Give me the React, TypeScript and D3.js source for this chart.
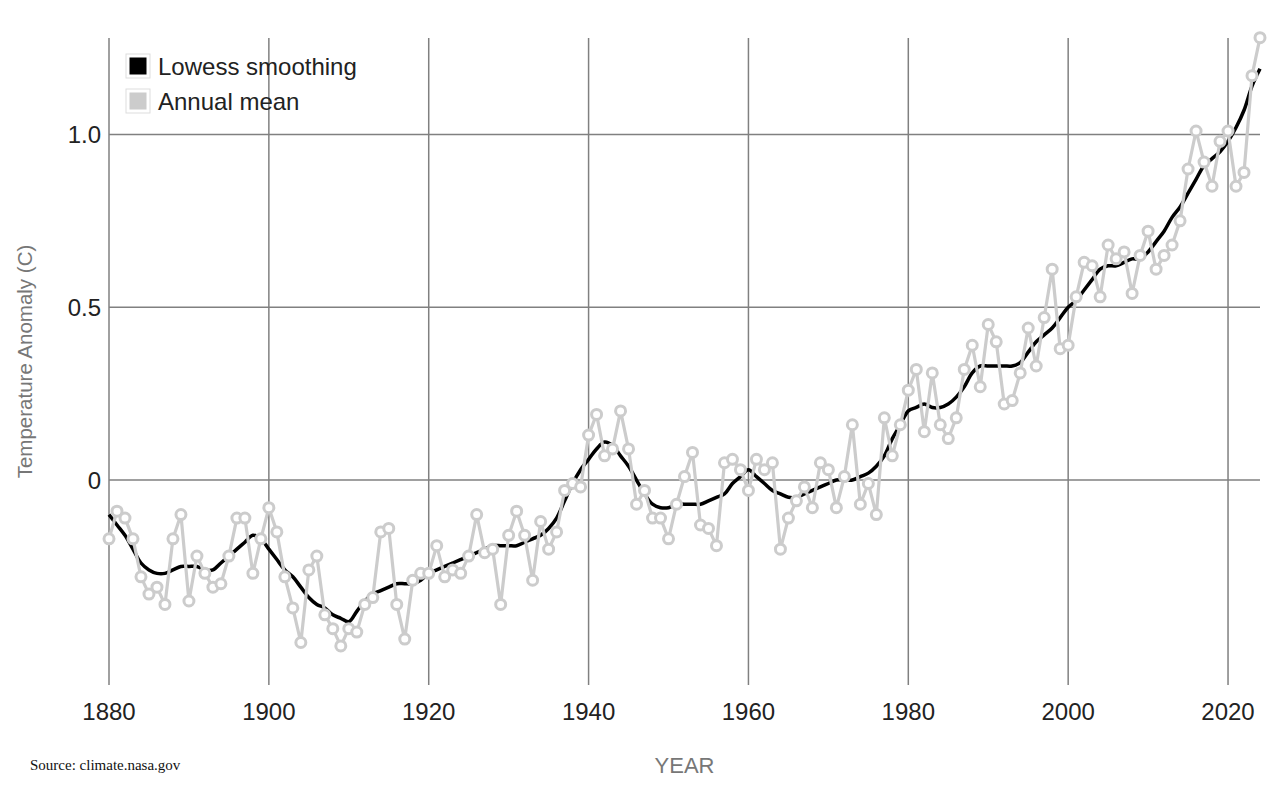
import React from 'react';
import * as d3 from 'd3';

// GISTEMP global land-ocean temperature index, 1880-2024
const years: number[] = d3.range(1880, 2025);

const annualMean: number[] = [
  -0.17, -0.09, -0.11, -0.17, -0.28, -0.33, -0.31, -0.36, -0.17, -0.10,
  -0.35, -0.22, -0.27, -0.31, -0.30, -0.22, -0.11, -0.11, -0.27, -0.17,
  -0.08, -0.15, -0.28, -0.37, -0.47, -0.26, -0.22, -0.39, -0.43, -0.48,
  -0.43, -0.44, -0.36, -0.34, -0.15, -0.14, -0.36, -0.46, -0.29, -0.27,
  -0.27, -0.19, -0.28, -0.26, -0.27, -0.22, -0.10, -0.21, -0.20, -0.36,
  -0.16, -0.09, -0.16, -0.29, -0.12, -0.20, -0.15, -0.03, -0.01, -0.02,
  0.13, 0.19, 0.07, 0.09, 0.20, 0.09, -0.07, -0.03, -0.11, -0.11,
  -0.17, -0.07, 0.01, 0.08, -0.13, -0.14, -0.19, 0.05, 0.06, 0.03,
  -0.03, 0.06, 0.03, 0.05, -0.20, -0.11, -0.06, -0.02, -0.08, 0.05,
  0.03, -0.08, 0.01, 0.16, -0.07, -0.01, -0.10, 0.18, 0.07, 0.16,
  0.26, 0.32, 0.14, 0.31, 0.16, 0.12, 0.18, 0.32, 0.39, 0.27,
  0.45, 0.40, 0.22, 0.23, 0.31, 0.44, 0.33, 0.47, 0.61, 0.38,
  0.39, 0.53, 0.63, 0.62, 0.53, 0.68, 0.64, 0.66, 0.54, 0.65,
  0.72, 0.61, 0.65, 0.68, 0.75, 0.90, 1.01, 0.92, 0.85, 0.98,
  1.01, 0.85, 0.89, 1.17, 1.28,
];

const lowess: number[] = [
  -0.10, -0.13, -0.16, -0.20, -0.24, -0.26, -0.27, -0.27, -0.26, -0.25,
  -0.25, -0.25, -0.26, -0.26, -0.24, -0.22, -0.20, -0.18, -0.16, -0.17,
  -0.20, -0.23, -0.26, -0.28, -0.31, -0.34, -0.36, -0.37, -0.39, -0.40,
  -0.41, -0.38, -0.35, -0.33, -0.32, -0.31, -0.30, -0.30, -0.30, -0.29,
  -0.27, -0.26, -0.25, -0.24, -0.23, -0.22, -0.21, -0.20, -0.19, -0.19,
  -0.19, -0.19, -0.18, -0.17, -0.16, -0.14, -0.11, -0.06, -0.01, 0.03,
  0.06, 0.09, 0.11, 0.10, 0.07, 0.04, 0.00, -0.04, -0.07, -0.08,
  -0.08, -0.07, -0.07, -0.07, -0.07, -0.06, -0.05, -0.04, -0.01, 0.01,
  0.03, 0.01, -0.01, -0.03, -0.04, -0.05, -0.05, -0.04, -0.03, -0.02,
  -0.01, 0.00, 0.00, 0.00, 0.01, 0.02, 0.04, 0.07, 0.12, 0.16,
  0.20, 0.21, 0.22, 0.21, 0.21, 0.22, 0.24, 0.27, 0.31, 0.33,
  0.33, 0.33, 0.33, 0.33, 0.34, 0.37, 0.40, 0.42, 0.44, 0.47,
  0.50, 0.52, 0.55, 0.58, 0.61, 0.62, 0.62, 0.63, 0.64, 0.64,
  0.66, 0.69, 0.72, 0.76, 0.79, 0.83, 0.87, 0.91, 0.93, 0.95,
  0.98, 1.02, 1.07, 1.14, 1.19,
];

const xTicks: number[] = [1880, 1900, 1920, 1940, 1960, 1980, 2000, 2020];
const yTicks: number[] = [0, 0.5, 1.0];

const legendItems = [
  { label: 'Lowess smoothing', color: '#000000' },
  { label: 'Annual mean', color: '#cccccc' },
];

const width = 1280;
const height = 800;
const font = '"Liberation Sans", Arial, Helvetica, sans-serif';

export default function App() {
  const x = d3.scaleLinear().domain([1880, 2024]).range([109, 1260]);
  const y = d3.scaleLinear().domain([-0.593, 1.279]).range([685, 38]);

  const points = years.map((yr, i) => ({ year: yr, annual: annualMean[i], smooth: lowess[i] }));

  const smoothLine = d3.line<typeof points[0]>()
    .x(d => x(d.year))
    .y(d => y(d.smooth))
    .curve(d3.curveCatmullRom);

  const annualLine = d3.line<typeof points[0]>()
    .x(d => x(d.year))
    .y(d => y(d.annual));

  const [top, bottom] = y.range().slice().reverse();

  return (
    <svg
      width={width}
      height={height}
      style={{ position: 'absolute', left: 0, top: 0, background: '#fff' }}
      fontFamily={font}
    >
      {/* grid */}
      <g stroke="#808080" strokeWidth={1.5}>
        {xTicks.map(t => (
          <line key={`vx${t}`} x1={x(t)} x2={x(t)} y1={top} y2={bottom} />
        ))}
        {yTicks.map(t => (
          <line key={`hy${t}`} x1={x(1880)} x2={x(2024)} y1={y(t)} y2={y(t)} />
        ))}
      </g>

      {/* tick labels */}
      <g fontSize={24} fill="#222">
        {xTicks.map(t => (
          <text key={`tx${t}`} x={x(t)} y={720} textAnchor="middle">{t}</text>
        ))}
        {yTicks.map(t => (
          <text key={`ty${t}`} x={101} y={y(t)} dy="0.36em" textAnchor="end">
            {t === 0 ? '0' : d3.format('.1f')(t)}
          </text>
        ))}
      </g>

      {/* series */}
      <path d={smoothLine(points) || ''} fill="none" stroke="#000" strokeWidth={3.5} />
      <path d={annualLine(points) || ''} fill="none" stroke="#cccccc" strokeWidth={3.2} />
      <g fill="#fff" stroke="#cccccc" strokeWidth={3}>
        {points.map(d => (
          <circle key={d.year} cx={x(d.year)} cy={y(d.annual)} r={5} />
        ))}
      </g>

      {/* legend */}
      {legendItems.map((item, i) => (
        <g key={item.label} transform={`translate(126, ${54 + i * 35})`}>
          <rect x={0} y={0} width={24} height={24} fill="#fff" stroke="#ddd" strokeWidth={1} />
          <rect x={3.5} y={3.5} width={17} height={17} fill={item.color} />
          <text x={32} y={21} fontSize={24} fill="#222">{item.label}</text>
        </g>
      ))}

      {/* axis titles */}
      <text
        transform={`translate(32, ${(top + bottom) / 2}) rotate(-90)`}
        textAnchor="middle"
        fontSize={20.5}
        fill="#777"
      >
        Temperature Anomaly (C)
      </text>
      <text x={(x(1880) + x(2024)) / 2} y={773} textAnchor="middle" fontSize={22} fill="#777">
        YEAR
      </text>
      <text x={30} y={770} fontSize={15} fill="#111" fontFamily='"Liberation Serif", "Times New Roman", serif'>
        Source: climate.nasa.gov
      </text>
    </svg>
  );
}
